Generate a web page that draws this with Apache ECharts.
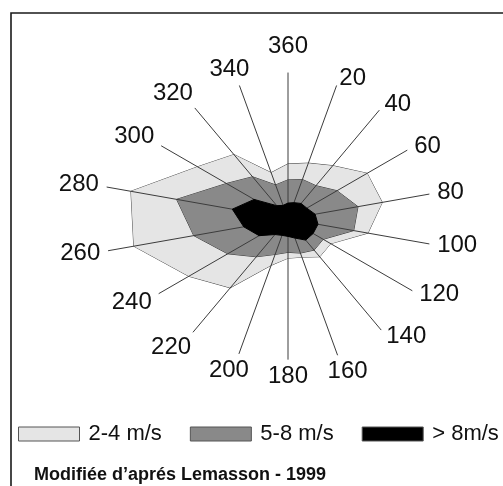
<!DOCTYPE html>
<html>
<head>
<meta charset="utf-8">
<script src="https://cdn.jsdelivr.net/npm/echarts@6/dist/echarts.min.js"></script>
<style>
  html, body { margin: 0; padding: 0; background: #fff; }
  #chart { width: 503px; height: 486px; }
</style>
</head>
<body>
<div id="chart"></div>
<script>
// Wind directions (degrees, clockwise from north) and their labels
const directions = [0, 20, 40, 60, 80, 100, 120, 140, 160, 180, 200, 220, 240, 260, 280, 300, 320, 340];
const directionLabels = ['360', '20', '40', '60', '80', '100', '120', '140', '160', '180', '200', '220', '240', '260', '280', '300', '320', '340'];

// Relative frequency per direction (arbitrary units, spoke length ~100)
const speed2to4 = [38, 41, 48, 63, 66, 56, 34, 34, 28, 27, 34, 62, 79, 108, 110, 72, 58, 34];
const speed5to8 = [27, 29, 30, 39, 49, 46, 28, 28, 25, 23, 26, 34, 48, 66, 78, 49, 38, 25];
const speedOver8 = [11, 12, 14, 15, 19, 21, 20, 19, 14, 12, 12, 14, 23, 31, 39, 27, 12, 10];

// Length of the drawn spokes (same units)
const spokeLength = [101, 98, 98, 95, 99, 99, 99, 100, 100, 97, 99, 102, 103, 126, 127, 101, 100, 98];

const seriesNames = ['2-4 m/s', '5-8 m/s', '> 8m/s'];

const CENTER = [288, 219];
const AXIS_MAX = 130;
const RADIUS = 188.5;
const FONT = '"Liberation Sans", Arial, sans-serif';

// radar indicators run counter-clockwise; map compass order onto them
const ccw = directions.map((_, k) => (directions.length - k) % directions.length);
const toRadar = arr => ccw.map(i => arr[i]);

const chart = echarts.init(document.getElementById('chart'), null, { renderer: 'canvas' });

const option = {
  backgroundColor: '#ffffff',
  animation: false,
  title: {
    text: 'Modifiée d’aprés Lemasson - 1999',
    left: 29,
    top: 461,
    textStyle: { fontFamily: FONT, fontSize: 18, fontWeight: 'bold', color: '#111' }
  },
  legend: {
    data: seriesNames,
    left: 18,
    top: 423,
    padding: 0,
    icon: 'rect',
    itemWidth: 61,
    itemHeight: 14,
    itemGap: 28,
    selectedMode: false,
    itemStyle: { borderColor: '#555', borderWidth: 1 },
    textStyle: { fontFamily: FONT, fontSize: 22, color: '#111', padding: [0, 0, 0, 4] }
  },
  radar: {
    center: CENTER,
    radius: RADIUS,
    startAngle: 90,
    shape: 'polygon',
    indicator: ccw.map(i => ({ name: directionLabels[i], min: 0, max: AXIS_MAX })),
    axisName: { show: false },
    axisLine: { show: false },
    axisTick: { show: false },
    axisLabel: { show: false },
    splitLine: { show: false },
    splitArea: { show: false }
  },
  polar: { center: CENTER, radius: RADIUS },
  angleAxis: { type: 'value', min: 0, max: 360, startAngle: 90, clockwise: true, show: false },
  radiusAxis: { type: 'value', min: 0, max: AXIS_MAX, show: false },
  graphic: [{
    type: 'rect', silent: true, z: 100,
    shape: { x: 11, y: 13, width: 800, height: 800 },
    style: { fill: 'none', stroke: '#1a1a1a', lineWidth: 1.6 }
  }],
  series: [
    {
      type: 'radar', z: 2, symbol: 'none', silent: true,
      data: [
        {
          name: seriesNames[0], value: toRadar(speed2to4),
          itemStyle: { color: '#e5e5e5' },
          areaStyle: { color: '#e5e5e5', opacity: 1 },
          lineStyle: { color: '#4a4a4a', width: 1 }
        },
        {
          name: seriesNames[1], value: toRadar(speed5to8),
          itemStyle: { color: '#898989' },
          areaStyle: { color: '#898989', opacity: 1 },
          lineStyle: { color: '#3a3a3a', width: 1 }
        }
      ]
    },
    {
      type: 'custom', coordinateSystem: 'polar', z: 3, silent: true,
      data: directions.map((d, i) => [spokeLength[i], d]),
      renderItem: function (params, api) {
        const len = api.value(0), ang = api.value(1);
        const c = api.coord([0, ang]);
        const e = api.coord([len, ang]);
        return {
          type: 'line',
          shape: { x1: c[0], y1: c[1], x2: e[0], y2: e[1] },
          style: { stroke: '#3c3c3c', lineWidth: 1 }
        };
      }
    },
    {
      type: 'radar', z: 4, symbol: 'none', silent: true,
      data: [
        {
          name: seriesNames[2], value: toRadar(speedOver8),
          itemStyle: { color: '#000000' },
          areaStyle: { color: '#000000', opacity: 1 },
          lineStyle: { color: '#000000', width: 1 }
        }
      ]
    },
    {
      type: 'custom', coordinateSystem: 'polar', z: 5, silent: true,
      data: directions.map((d, i) => [spokeLength[i], d]),
      renderItem: function (params, api) {
        const len = api.value(0), ang = api.value(1);
        const c = api.coord([0, ang]);
        const e = api.coord([len, ang]);
        let dx = e[0] - c[0], dy = e[1] - c[1];
        const L = Math.hypot(dx, dy) || 1;
        dx /= L; dy /= L;
        const txt = directionLabels[params.dataIndex];
        const w = txt.length * 13.3, h = 17;
        const gap = (Math.abs(dx) < 0.05 && dy < 0) ? 18 : 8;
        let x, y;
        if (dx > 0.3 && dy < 0.9) {
          // right-hand labels: left aligned, vertically centred on the spoke end
          x = e[0] + dx * gap + w / 2;
          y = e[1] + dy * gap;
        } else {
          const m = Math.max(Math.abs(dx), Math.abs(dy));
          x = e[0] + dx * gap + (dx / m) * w / 2;
          y = e[1] + dy * gap + (dy / m) * h / 2;
        }
        return {
          type: 'text',
          style: {
            text: txt, x: x, y: y,
            align: 'center', verticalAlign: 'middle',
            fontSize: 24, fontFamily: FONT, fill: '#111'
          }
        };
      }
    }
  ]
};

chart.setOption(option);
</script>
</body>
</html>
